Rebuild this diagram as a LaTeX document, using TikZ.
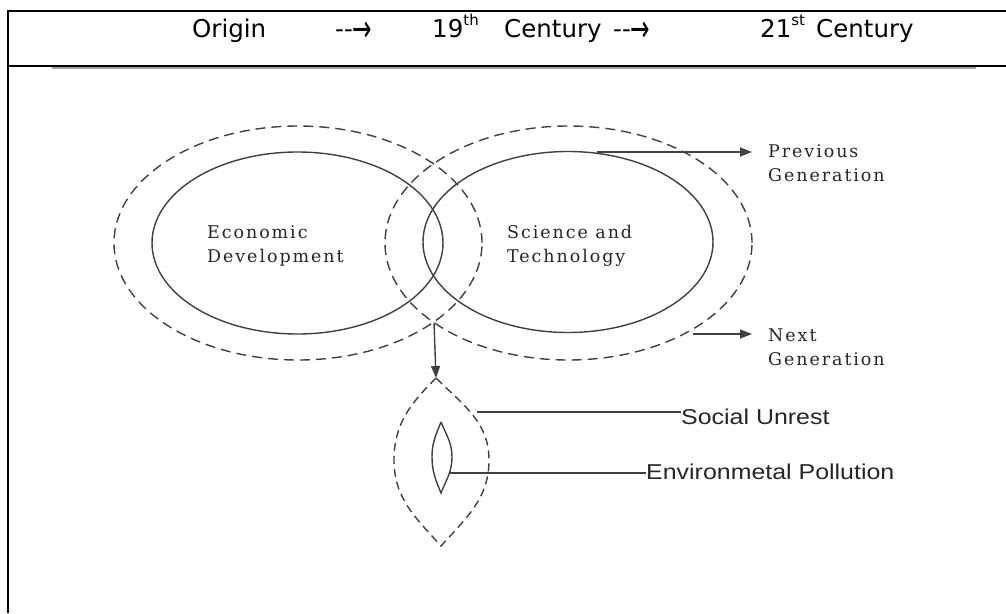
\documentclass[tikz,border=0pt]{standalone}
\usepackage{fontspec}
\setmainfont{DejaVu Serif}
\newfontfamily\hdrfont{DejaVu Sans}
\newfontfamily\labfont{DejaVu Serif}[LetterSpace=11]
\newfontfamily\arlfont{Liberation Sans}
\usetikzlibrary{arrows.meta,shapes.geometric}
\definecolor{ink}{HTML}{404040}
\newcommand{\supx}[1]{\raisebox{12pt}{\fontsize{15}{15}\selectfont #1}}
\newcommand{\harr}{--\raisebox{-4.2pt}{\scalebox{0.95}[1.5]{→}}}
\begin{document}
\begin{tikzpicture}[x=1pt,y=-1pt,
  frame/.style={line width=1.7pt,black},
  solidell/.style={ellipse,draw=ink,line width=1.4pt,inner sep=0pt,outer sep=0pt},
  dashell/.style={ellipse,draw=ink,line width=1.4pt,dash pattern=on 10pt off 6pt,inner sep=0pt,outer sep=0pt},
  dashline/.style={draw=ink,line width=1.4pt,dash pattern=on 8pt off 5pt},
  solidline/.style={draw=ink,line width=1.4pt},
  hdr/.style={anchor=base west,inner sep=0pt,font=\hdrfont\fontsize{24.5}{28}\selectfont},
  lab/.style={anchor=base west,align=left,inner sep=0pt,font=\labfont\fontsize{17.5}{23.5}\selectfont,text=black!85},
  sans/.style={anchor=base west,inner sep=0pt,font=\arlfont\fontsize{21.5}{24}\selectfont,text=black!85},
  arr/.style={ink,line width=1.4pt,-{Triangle[length=12pt,width=9pt]}},
  lead/.style={ink,line width=1.2pt}]
\useasboundingbox (0,0) rectangle (1006,613);
% frame
\draw[frame] (1006,11) -- (8,11) -- (8,613);
\draw[frame] (8,66) -- (1006,66);
\draw[gray!70,line width=1.4pt] (52,68) -- (976,68);
% header
\node[hdr] (h1) at (192,37) {Origin};
\node[hdr] (h2) at (335,37) {\harr};
\node[hdr] (h3) at (432,37) {19\supx{th}};
\node[hdr] (h4) at (504,37) {Century};
\node[hdr] (h5) at (613,37) {\harr};
\node[hdr] (h6) at (760,37) {21\supx{st}};
\node[hdr] (h7) at (816,37) {Century};
% ellipses
\node[dashell,minimum width=368pt,minimum height=234pt] (edout) at (298,243) {};
\node[solidell,minimum width=291pt,minimum height=182pt] (edin) at (297.5,243) {};
\node[dashell,minimum width=367pt,minimum height=234pt] (stout) at (568.5,243) {};
\node[solidell,minimum width=290pt,minimum height=181pt] (stin) at (568,242) {};
% labels (base = last line)
\node[lab] (edl) at (207,262) {Economic\\Development};
\node[lab] (stl) at (507,262) {Science and\\Technology};
\node[lab] (pgl) at (768,181) {Previous\\Generation};
\node[lab] (ngl) at (768,365) {Next\\Generation};
% arrows
\coordinate (pv0) at (597,152);
\coordinate (pv1) at (752,152);
\coordinate (nx0) at (693,334);
\coordinate (nx1) at (752,334);
\draw[arr] (pv0) -- (pv1);
\draw[arr] (nx0) -- (nx1);
% lens
\coordinate (ltop) at (436,378);
\coordinate (lbot) at (441,546);
\coordinate (lleft) at (394,460);
\coordinate (lright) at (489,460);
\draw[dashline] (ltop) to[out=-135,in=90] (lleft) to[out=-90,in=132] (lbot)
  to[out=48,in=-90] (lright) to[out=90,in=-45] (ltop);
\coordinate (itop) at (441,422);
\coordinate (ibot) at (441,493);
\coordinate (ileft) at (432,457);
\coordinate (iright) at (452,457);
\draw[solidline] (itop) to[out=-112,in=90] (ileft) to[out=-90,in=112] (ibot)
  to[out=68,in=-90] (iright) to[out=90,in=-68] (itop);
\coordinate (dstart) at (434,323);
\draw[arr] (dstart) -- (ltop);
% leaders
\node[sans] (sul) at (681,424) {\scalebox{1.16}[1]{Social Unrest}};
\node[sans] (epl) at (646,479) {\scalebox{1.16}[1]{Environmetal Pollution}};
\coordinate (su0) at (477,412);
\coordinate (ep0) at (450,473);
\draw[lead] (su0) -- (su0 -| sul.west);
\draw[lead] (ep0) -- (ep0 -| epl.west);
\end{tikzpicture}
\end{document}
